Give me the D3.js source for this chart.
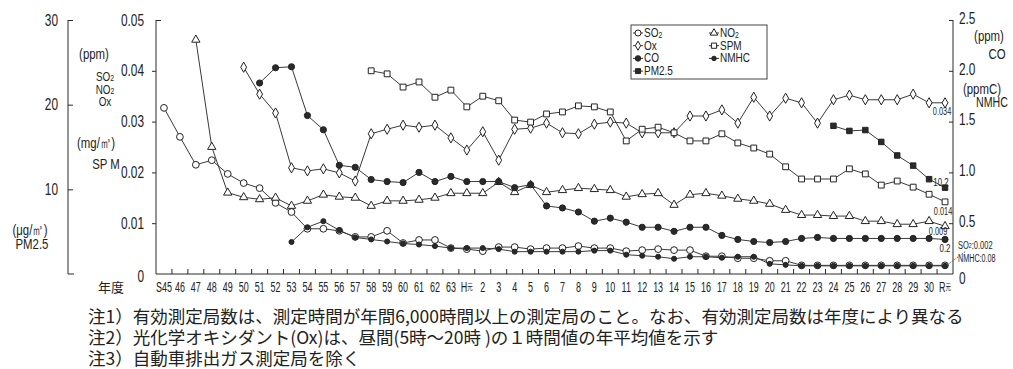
<!DOCTYPE html>
<html><head><meta charset="utf-8">
<script src="https://cdn.jsdelivr.net/npm/d3@7"></script>
<style>
body{margin:0;background:#fff}
svg{display:block}
text{fill:#222}
.num{font-family:"Liberation Sans",Arial,sans-serif;}
.jp{font-family:"Noto Sans CJK JP","Noto Sans",sans-serif;}
</style></head><body>
<svg id="c" width="1013" height="369"></svg>
<script>
const categories = ["S45","46","47","48","49","50","51","52","53","54","55","56","57","58","59","60","61","62","63","H元",
  "2","3","4","5","6","7","8","9","10","11","12","13","14","15","16","17","18","19","20","21",
  "22","23","24","25","26","27","28","29","30","R元"];
const so2 = [0.0327,0.0270,0.0215,0.0224,0.0197,0.0179,0.0169,0.0140,0.0122,0.0089,
  0.0089,0.0085,0.0073,0.0073,0.0085,0.0061,0.0067,0.0067,0.0051,0.0049,
  0.0045,0.0053,0.0053,0.0049,0.0051,0.0051,0.0055,0.0051,0.0051,0.0045,
  0.0047,0.0049,0.0047,0.0047,0.0035,0.0035,0.0031,0.0031,0.0026,0.0026,
  0.0017,0.0017,0.0017,0.0017,0.0017,0.0017,0.0017,0.0017,0.0017,0.0017];
const no2 = [null,null,0.0461,0.0250,0.0160,0.0151,0.0147,0.0150,0.0134,0.0144,
  0.0156,0.0152,0.0150,0.0134,0.0144,0.0144,0.0146,0.0150,0.0159,0.0159,
  0.0159,0.0181,0.0161,0.0175,0.0161,0.0165,0.0169,0.0167,0.0165,0.0152,
  0.0157,0.0159,0.0136,0.0156,0.0159,0.0154,0.0148,0.0144,0.0138,0.0126,
  0.0116,0.0116,0.0114,0.0114,0.0104,0.0104,0.0098,0.0098,0.0104,0.0094];
const ox = [null,null,null,null,null,0.0407,0.0354,0.0317,0.0209,0.0203,
  0.0207,0.0199,0.0183,0.0276,0.0285,0.0293,0.0289,0.0293,0.0268,0.0244,
  0.0280,0.0224,0.0285,0.0287,0.0297,0.0278,0.0276,0.0295,0.0299,0.0297,
  0.0278,0.0278,0.0278,0.0311,0.0311,0.0323,0.0297,0.0348,0.0311,0.0346,
  0.0337,0.0297,0.0343,0.0352,0.0343,0.0343,0.0343,0.0354,0.0337,0.0337];
const spm = [null,null,null,null,null,null,null,null,null,null,
  null,null,null,0.0400,0.0394,0.0368,0.0378,0.0348,0.0362,0.0329,
  0.0350,0.0341,0.0303,0.0299,0.0315,0.0319,0.0331,0.0329,0.0319,0.0262,
  0.0285,0.0289,0.0278,0.0262,0.0262,0.0276,0.0258,0.0248,0.0236,0.0211,
  0.0187,0.0187,0.0187,0.0207,0.0197,0.0175,0.0183,0.0171,0.0157,0.0142];
const co = [null,null,null,null,null,null,1.88,2.03,2.04,1.56,
  1.42,1.07,1.05,0.93,0.91,0.90,1.00,0.91,0.96,0.91,
  0.91,0.91,0.85,0.88,0.67,0.65,0.61,0.52,0.55,0.51,
  0.46,0.46,0.42,0.46,0.46,0.38,0.34,0.32,0.31,0.32,
  0.35,0.36,0.35,0.35,0.35,0.35,0.35,0.35,0.35,0.34];
const nmhc = [null,null,null,null,null,null,null,null,0.315,0.46,
  0.52,0.43,0.36,0.34,0.32,0.30,0.29,0.275,0.255,0.255,
  0.255,0.245,0.22,0.22,0.22,0.22,0.22,0.23,0.23,0.19,
  0.18,0.17,0.15,0.17,0.17,0.16,0.17,0.17,0.10,0.09,
  0.08,0.08,0.08,0.08,0.08,0.08,0.08,0.08,0.08,0.08];
const pm25 = [null,null,null,null,null,null,null,null,null,null,
  null,null,null,null,null,null,null,null,null,null,
  null,null,null,null,null,null,null,null,null,null,
  null,null,null,null,null,null,null,null,null,null,
  null,null,17.5,16.9,17.0,15.6,14.0,12.8,11.2,10.2];
const leftTicks = [0,0.01,0.02,0.03,0.04,0.05];
const rightTicks = [0,0.5,1.0,1.5,2.0,2.5];
const pmTicks = [10,20,30];
const notes = ["注1）有効測定局数は、測定時間が年間6,000時間以上の測定局のこと。なお、有効測定局数は年度により異なる",
  "注2）光化学オキシダント(Ox)は、昼間(5時～20時 )の１時間値の年平均値を示す",
  "注3）自動車排出ガス測定局を除く"];

const svg = d3.select("#c");
const x = d3.scaleBand().domain(categories).range([156, 953]);
const cx = c => x(c) + x.bandwidth()/2;
const yL = d3.scaleLinear().domain([0,0.05]).range([274,20]);
const yR = d3.scaleLinear().domain([0,2.5]).range([274,20]);
const yP = d3.scaleLinear().domain([0,30]).range([274,20]);
const ink = "#2a2a2a";

// condense text horizontally (the original uses a narrow face)
function sq(sel, f){
  sel.each(function(){
    const L = this.getComputedTextLength();
    d3.select(this).attr("textLength", (L*f).toFixed(2)).attr("lengthAdjust","spacingAndGlyphs");
  });
  return sel;
}

// left main axis
const gL = svg.append("g").attr("transform","translate(156,0)").attr("class","num")
  .call(d3.axisLeft(yL).tickValues(leftTicks).tickSize(4).tickPadding(8)
    .tickFormat(d => d===0 ? "0" : d3.format(".2f")(d)));
gL.select(".domain").remove();
gL.selectAll(".tick line").attr("stroke",ink).attr("x2", d => d===0.05 ? 5 : -4).style("display", d => d===0 ? "none":null);
gL.selectAll(".tick text").attr("font-size",16).attr("font-family",null).attr("fill",ink).attr("dy", d => d===0 ? "0.45em" : "0.32em");
sq(gL.selectAll(".tick text"), 0.74);
svg.append("line").attr("x1",156).attr("x2",156).attr("y1",yL(0.05)).attr("y2",yL(0)).attr("stroke",ink);

// PM2.5 axis
const gP = svg.append("g").attr("transform","translate(68,0)").attr("class","num")
  .call(d3.axisLeft(yP).tickValues(pmTicks).tickSizeInner(-5).tickSizeOuter(0).tickPadding(10));
gP.select(".domain").remove();
gP.selectAll(".tick line").attr("stroke",ink);
gP.selectAll(".tick text").attr("font-size",16).attr("font-family",null).attr("fill",ink);
sq(gP.selectAll(".tick text"), 0.74);
svg.append("path").attr("d",`M74,${yP(0)}H68V${yP(30)}`).attr("fill","none").attr("stroke",ink);

// right axis
const gR = svg.append("g").attr("transform","translate(953,0)").attr("class","num")
  .call(d3.axisRight(yR).tickValues(rightTicks).tickSizeInner(-4).tickSizeOuter(0).tickPadding(6)
    .tickFormat(d => d===0 ? "0" : d3.format(".1f")(d)));
gR.select(".domain").remove();
gR.selectAll(".tick line").attr("stroke",ink).style("display", d => d===0 ? "none":null);
gR.selectAll(".tick text").attr("font-size",16).attr("font-family",null).attr("fill",ink).attr("dy", d => d===0 ? "0.6em" : "0.2em");
sq(gR.selectAll(".tick text"), 0.74);
svg.append("line").attr("x1",953).attr("x2",953).attr("y1",yR(2.5)).attr("y2",yR(0)).attr("stroke",ink);

// bottom axis
svg.append("line").attr("x1",156).attr("x2",953).attr("y1",274).attr("y2",274).attr("stroke",ink);
svg.append("g").selectAll("line").data(categories.slice(1)).join("line")
  .attr("x1", d => x(d)).attr("x2", d => x(d)).attr("y1",274).attr("y2",269).attr("stroke",ink);
const xl = svg.append("g").attr("class","num").selectAll("text").data(categories).join("text")
  .attr("x", d => cx(d)).attr("y", 292).attr("text-anchor","middle").attr("font-size",14).attr("fill",ink);
xl.each(function(d){
  const t = d3.select(this);
  if (d.endsWith("元")) {
    t.append("tspan").text(d[0]);
    t.append("tspan").attr("font-size",8.5).attr("class","jp").attr("dy",-2).text("元");
  } else t.text(d);
});
sq(xl, 0.64);
svg.append("text").attr("class","jp").attr("x",111).attr("y",292).attr("text-anchor","middle").attr("font-size",13).attr("fill",ink).text("年度");

// side unit labels
function lab(txt, xx, yy, fs, anchor){
  return svg.append("text").attr("class","num").attr("x",xx).attr("y",yy).attr("font-size",fs)
    .attr("text-anchor",anchor||"middle").attr("dominant-baseline","central").attr("fill",ink).text(txt);
}
const sideLabels = [];
sideLabels.push(lab("(ppm)",94,53,15));
const s1 = lab("SO",105,76,13); s1.append("tspan").attr("font-size",9).attr("dy",2).text("2"); sideLabels.push(s1);
const s2 = lab("NO",105,89,13); s2.append("tspan").attr("font-size",9).attr("dy",2).text("2"); sideLabels.push(s2);
sideLabels.push(lab("Ox",105,101,13));
sideLabels.push(lab("(mg/㎥)",96,142,15));
sideLabels.push(lab("SP M",106,163,15));
sideLabels.push(lab("(μg/㎥)",30,229,15));
sideLabels.push(lab("PM2.5",32,243,15));
sideLabels.push(lab("(ppm)",989,35,15));
sideLabels.push(lab("CO",997,53,15));
sideLabels.push(lab("(ppmC)",982,88,15));
sideLabels.push(lab("NMHC",992,102,14));
sideLabels.forEach(s => sq(s, 0.76));

// series
const series = [
  {name:"SO", sub:"2", data:so2, y:yL, sym:d3.symbolCircle, size:36, fill:"#fff"},
  {name:"NO", sub:"2", data:no2, y:yL, sym:d3.symbolTriangle, size:30, fill:"#fff"},
  {name:"Ox", data:ox, y:yL, sym:d3.symbolDiamond, size:30, fill:"#fff"},
  {name:"SPM", data:spm, y:yL, sym:d3.symbolSquare, size:34, fill:"#fff"},
  {name:"CO", data:co, y:yR, sym:d3.symbolCircle, size:30, fill:ink},
  {name:"NMHC", data:nmhc, y:yR, sym:d3.symbolCircle, size:20, fill:ink},
  {name:"PM2.5", data:pm25, y:yP, sym:d3.symbolSquare, size:30, fill:ink}
];
const drawOrder = [0,5,1,2,3,4,6];
drawOrder.forEach(i => {
  const s = series[i];
  const pts = categories.map((c,k)=>({c, v:s.data[k]})).filter(p => p.v!=null);
  svg.append("path").datum(pts).attr("fill","none").attr("stroke","#3a3a3a").attr("stroke-width",1)
    .attr("d", d3.line().x(p=>cx(p.c)).y(p=>s.y(p.v)));
  svg.append("g").selectAll("path").data(pts).join("path")
    .attr("transform", p => `translate(${cx(p.c)},${s.y(p.v)})`)
    .attr("d", d3.symbol(s.sym, s.size)).attr("fill", s.fill).attr("stroke", "#222").attr("stroke-width",1);
});

// end labels
const last = categories[categories.length-1];
const lx = cx(last);
function small(txt, xx, yy, anchor, fs){
  const t = svg.append("text").attr("class","num").attr("x",xx).attr("y",yy).attr("font-size",fs||10.5)
    .attr("text-anchor",anchor||"middle").attr("dominant-baseline","central").attr("fill",ink).text(txt);
  return t;
}
sq(small("0.034", lx-3, yL(ox[49])+8), 0.7);
sq(small("10.2", lx-4, yP(pm25[49])-6), 0.75);
sq(small("0.014", lx-2, yL(spm[49])+9), 0.7);
sq(small("0.009", lx-7, yL(no2[49])+5), 0.7);
sq(small("0.2", lx, yR(co[49])+9), 0.75);
const t1 = small("SO", 958, 245, "start", 10); t1.append("tspan").attr("font-size",7).text("2"); t1.append("tspan").text(":0.002");
sq(t1, 0.75);
sq(small("NMHC:0.08", 958, 258, "start", 10), 0.72);
svg.append("line").attr("x1",lx+2).attr("y1",yR(nmhc[49])-1).attr("x2",966).attr("y2",251)
  .attr("stroke","#555").attr("stroke-dasharray","1.5,1.5");

// legend
const lg = svg.append("g");
lg.append("rect").attr("x",631).attr("y",25).attr("width",136).attr("height",54).attr("fill","#fff").attr("stroke","#444");
const lpos = [[0,0],[1,0],[0,1],[1,1],[0,2],[1,2],[0,3]];
series.forEach((s,k) => {
  const [col,row] = lpos[k];
  const mx = col===0 ? 638 : 714, my = 33 + row*12.7;
  lg.append("line").attr("x1",mx-5).attr("x2",mx+5).attr("y1",my).attr("y2",my).attr("stroke","#333");
  lg.append("path").attr("transform",`translate(${mx},${my})`).attr("d", d3.symbol(s.sym, s.size*0.8))
    .attr("fill", s.fill).attr("stroke","#222");
  const t = lg.append("text").attr("class","num").attr("x",mx+6).attr("y",my).attr("font-size",12.5)
    .attr("dominant-baseline","central").attr("fill",ink).text(s.name);
  if (s.sub) t.append("tspan").attr("font-size",8.5).attr("dy",2).text(s.sub);
  sq(t, 0.8);
});

// notes
svg.append("g").selectAll("text").data(notes).join("text").attr("class","jp")
  .attr("x",88).attr("y",(d,i)=>315+i*21).attr("dominant-baseline","central")
  .attr("font-size",17.5).attr("fill","#222").text(d=>d);
</script>
</body></html>
